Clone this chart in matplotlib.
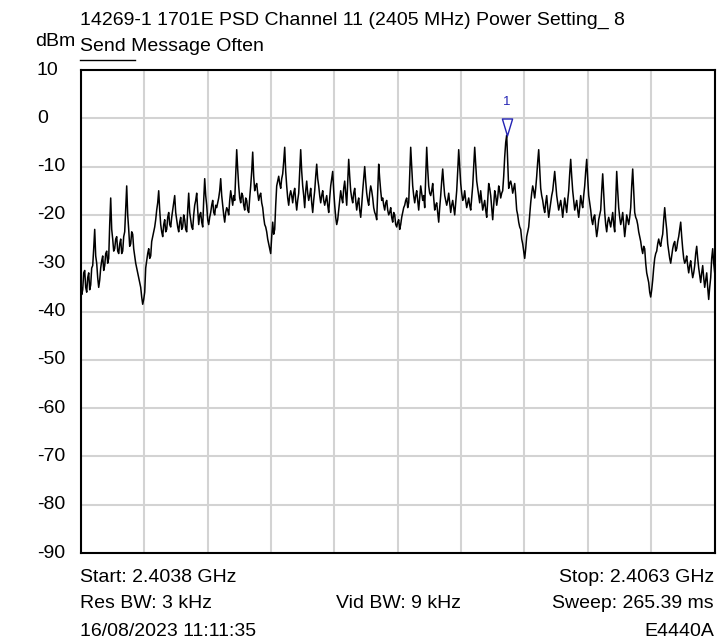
import numpy as np
import matplotlib
matplotlib.use("Agg")
import matplotlib.pyplot as plt
import matplotlib.transforms as mtransforms
from matplotlib.path import Path
from matplotlib.lines import Line2D

plt.rcParams['font.family'] = ['Liberation Sans', 'DejaVu Sans']

# ---- data ----
start_ghz = 2.4038
stop_ghz = 2.4063
y_ticks = [10, 0, -10, -20, -30, -40, -50, -60, -70, -80, -90]
title_line = "14269-1 1701E PSD Channel 11 (2405 MHz) Power Setting_ 8"
subtitle_line = "Send Message Often"
unit_label = "dBm"
info_left = ["Start: 2.4038 GHz", "Res BW: 3 kHz", "16/08/2023 11:11:35"]
info_mid = ["", "Vid BW: 9 kHz", ""]
info_right = ["Stop: 2.4063 GHz", "Sweep: 265.39 ms", "E4440A"]
marker_label = "1"

level_dbm = [
    -33, -36.5, -35.5, -32, -31.5, -35, -36, -33, -32, -35.5, -34.5, -31, -30.5, -27, -23, -28.5, -30, -33, -35, -33.5,
    -31, -29.5, -28.5, -31.5, -30.5, -28, -27.5, -30, -29, -22, -16.5, -23, -25, -27.5, -27, -25, -24.5, -27.5, -28, -26,
    -25, -28, -27.5, -24.5, -23.5, -19, -14, -20, -23, -26.5, -26, -23.5, -24, -27, -28.5, -30, -31, -32, -33, -34,
    -35, -37, -38.5, -37.5, -36, -31, -29.5, -28, -27, -29, -28.5, -25.5, -24.5, -23.5, -22.5, -21, -19, -17.5, -15, -19,
    -22, -23.5, -24.5, -22, -21, -23.5, -23, -20.5, -19.5, -22, -22.5, -20.5, -19, -17.5, -16, -19.5, -21, -22.5, -23.5, -21.5,
    -20.5, -23, -22.5, -20, -21, -23, -23.5, -19, -15.5, -19.5, -21, -22.5, -23, -20, -18, -17, -15.5, -19, -22, -20,
    -19.5, -21.5, -22.5, -17, -12.5, -16, -18, -21, -22, -20.5, -19.5, -18, -17, -19.5, -20, -18, -18.5, -17.5, -16.5, -15,
    -12.5, -16, -18, -20, -21.5, -19.5, -18.5, -19, -20, -17, -15, -16.5, -18, -16, -17, -12, -6.5, -10.5, -14, -16.5,
    -17.5, -15.5, -16, -18, -19, -16.5, -17, -19, -19.5, -16.5, -14, -11, -7, -12, -15, -14, -13.5, -15.5, -17, -16,
    -15.5, -17.5, -18.5, -20.5, -22, -22.5, -23.5, -25, -26, -27, -28, -24.5, -21.5, -24, -23, -18, -14, -13, -12, -13.5,
    -14.5, -12.5, -11.5, -9, -6, -11, -14, -16.5, -18, -16, -15, -16, -17.5, -15.5, -14.5, -17, -19, -17, -15.5, -11,
    -6.5, -11, -14, -16, -18.5, -15, -13, -15.5, -17, -16, -14.5, -17.5, -19.5, -17, -15, -12, -9.5, -12.5, -14, -16,
    -17.5, -16, -15, -17, -18, -17, -16, -18, -19.5, -16.5, -14, -12.5, -11, -15, -18, -20.5, -22, -21, -19, -17,
    -15, -16.5, -17.5, -14.5, -13, -15.5, -18, -13, -8.5, -12, -15, -16.5, -17.5, -15.5, -14.5, -17, -19, -17.5, -16.5, -19,
    -20.5, -18, -15, -12.5, -10, -13, -15.5, -17, -18, -15.5, -14, -15, -16.5, -18.5, -19.5, -20, -21, -15, -9.5, -12.5,
    -15, -17, -16.5, -18, -19, -17.5, -17, -19, -20, -19.5, -18.5, -20.5, -21.5, -19.5, -20, -22, -22.5, -21.5, -21, -23,
    -22, -20.5, -19.5, -18.5, -18, -17, -16.5, -18.5, -17.5, -12, -6, -10, -14, -16, -17.5, -16, -15, -17, -19, -16.5,
    -14, -15.5, -17, -16, -18.5, -12, -6, -10.5, -14, -15.5, -16, -15, -13.5, -16.5, -19, -18, -17.5, -19.5, -21.5, -18.5,
    -16, -13, -10.5, -13.5, -16, -17, -18, -17, -15.5, -17.5, -19.5, -18, -17, -18.5, -20, -17.5, -15, -11, -6.5, -10,
    -13.5, -15.5, -17, -16.5, -15, -17, -18.5, -17.5, -16.5, -18, -19, -16.5, -14, -10, -6, -9.5, -13, -14.5, -16, -17.5,
    -15, -17, -19, -18, -17, -19, -20.5, -17, -13.5, -14.5, -16, -18.5, -21, -18, -15, -16, -18, -16.5, -14, -15,
    -16.5, -15.5, -15, -12, -8, -5, -3.5, -9, -14.5, -13.5, -13, -14, -15.5, -14.5, -13.5, -16, -19, -20, -21.5, -22.5,
    -23, -25, -26, -27.5, -29, -27, -24.5, -23.5, -22.5, -20, -17.5, -15.5, -14, -15, -16.5, -14.5, -12, -9, -6.5, -10.5,
    -14.5, -16, -17, -18.5, -19.5, -17.5, -16, -18.5, -20.5, -19, -17.5, -16, -15, -13, -11, -13.5, -16, -17.5, -19, -18,
    -17, -18.5, -20.5, -18.5, -16.5, -18, -19.5, -17, -15, -11.5, -8.5, -12, -15, -17, -19, -18, -17, -19, -20.5, -18.5,
    -16, -17.5, -18.5, -16, -14, -11, -8.5, -12.5, -16, -17.5, -19, -21, -22, -20.5, -20, -22.5, -24.5, -23, -21, -20,
    -19, -15, -11.5, -15.5, -19.5, -22, -23.5, -21.5, -20.5, -21.5, -22.5, -21, -19.5, -22, -23.5, -17, -11, -15, -18.5, -20.5,
    -22, -21, -19.5, -22, -24.5, -22.5, -20, -21, -22, -20.5, -18.5, -14, -10.5, -15, -19.5, -20.5, -21, -22, -23.5, -24.5,
    -25.5, -27, -28, -26.5, -27, -30, -32, -33, -34, -36, -37, -35.5, -33.5, -31, -29, -28, -27.5, -26, -25, -26,
    -26.5, -25, -24, -21, -18.5, -21, -23, -26, -27.5, -29, -30, -28.5, -27, -26, -25.5, -27.5, -27, -25.5, -24.5, -23,
    -21.5, -24.5, -27, -29, -30, -29.5, -28.5, -30.5, -32, -30.5, -29.5, -31.5, -33, -32, -30.5, -28, -26.5, -29, -31, -32.5,
    -34, -32, -30.5, -33, -35, -33.5, -32, -35, -37.5, -35, -33, -29, -27, -30, -32,
]

freq_ghz = np.linspace(start_ghz, stop_ghz, len(level_dbm))

# ---- figure ----
W, H, DPI = 717, 644, 100
FS = 14
fig = plt.figure(figsize=(W / DPI, H / DPI), dpi=DPI)
ax_left, ax_right, ax_top, ax_bottom = 80.7, 714.7, 70.0, 553.0
ax = fig.add_axes([ax_left / W, 1 - ax_bottom / H,
                   (ax_right - ax_left) / W, (ax_bottom - ax_top) / H])

ax.plot(freq_ghz, level_dbm, color='black', lw=1.1, zorder=3)

ax.set_xlim(start_ghz, stop_ghz)
ax.set_ylim(y_ticks[-1], y_ticks[0])
ax.set_xticks(np.linspace(start_ghz, stop_ghz, 11))
ax.set_xticklabels([])
ax.set_yticks(y_ticks)
ax.set_yticklabels([])
ax.tick_params(axis='both', length=0)
ax.grid(True, color='#d3d3d3', lw=1.5)
ax.set_axisbelow(True)
for sp in ax.spines.values():
    sp.set_color('black')
    sp.set_linewidth(1.5)

# y tick labels, left aligned like the analyser screen
ylab_trans = mtransforms.blended_transform_factory(fig.transFigure, ax.transData)
for t in y_ticks:
    ax.text(37 / W, t, str(t), transform=ylab_trans, fontsize=FS,
            ha='left', va='center', clip_on=False)

# marker
imax = int(np.argmax(level_dbm))
mk_path = Path([(-0.3, 0.5), (0.3, 0.5), (0.0, -0.5), (-0.3, 0.5)],
               [Path.MOVETO, Path.LINETO, Path.LINETO, Path.CLOSEPOLY])
trans_mk = mtransforms.offset_copy(ax.transData, fig=fig, x=0, y=8.5 * 72 / DPI, units='points')
ax.plot([freq_ghz[imax]], [level_dbm[imax]], marker=mk_path, markersize=17 * 72 / DPI,
        markerfacecolor='none', markeredgecolor='#2323b4', markeredgewidth=1.0,
        transform=trans_mk, zorder=4, clip_on=False)
trans_lbl = mtransforms.offset_copy(ax.transData, fig=fig, x=0, y=33 * 72 / DPI, units='points')
ax.text(freq_ghz[imax], level_dbm[imax], marker_label, transform=trans_lbl,
        color='#2323b4', fontsize=9.5, ha='center', va='center')

# header texts
def fx(px):
    return px / W

def fy(py):
    return 1 - py / H

fig.text(fx(80), fy(20.5), title_line, fontsize=FS, ha='left', va='center')
fig.text(fx(35), fy(42), unit_label, fontsize=FS, ha='left', va='center')
fig.text(fx(80), fy(46.5), subtitle_line, fontsize=FS, ha='left', va='center')
fig.add_artist(Line2D([fx(80), fx(135)], [fy(60), fy(60)], color='black', lw=1.0,
                      transform=fig.transFigure))

# footer texts
rows_y = [577, 604, 632]
for yy, l, m, r in zip(rows_y, info_left, info_mid, info_right):
    fig.text(fx(80), fy(yy), l, fontsize=FS, ha='left', va='center')
    if m:
        fig.text(fx(398), fy(yy), m, fontsize=FS, ha='center', va='center')
    fig.text(fx(714), fy(yy), r, fontsize=FS, ha='right', va='center')

fig.savefig('out.png', dpi=DPI)
